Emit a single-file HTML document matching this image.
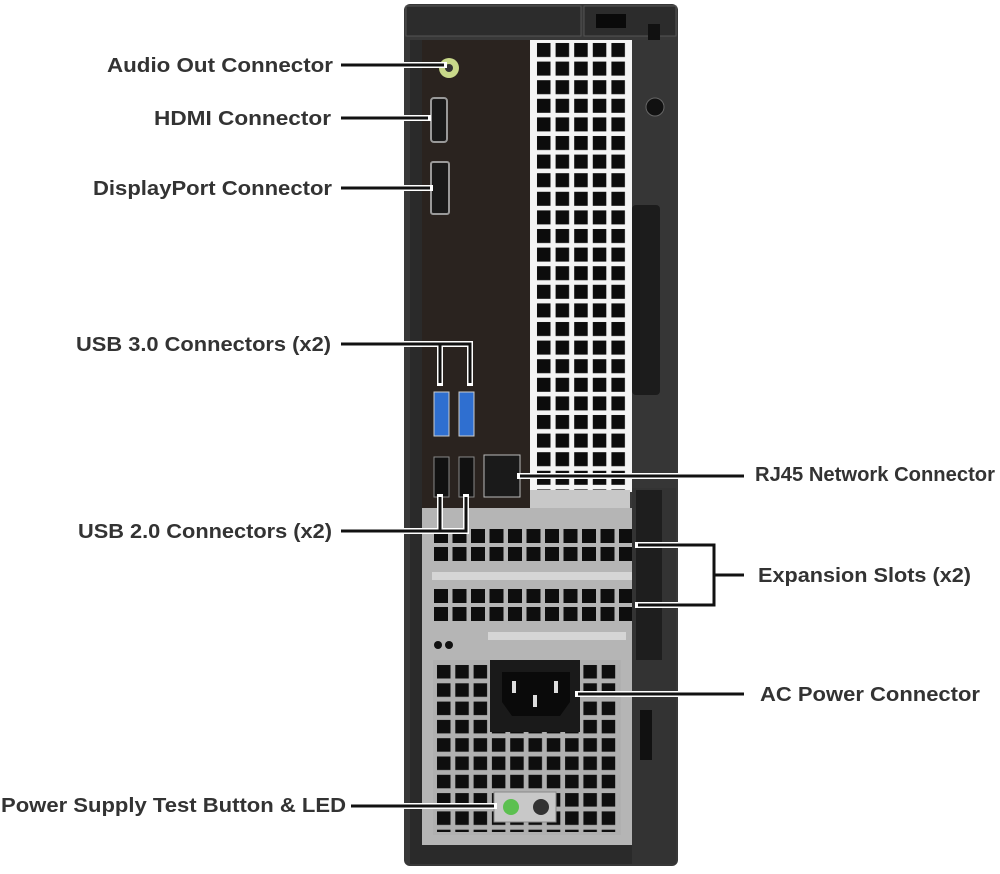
<!DOCTYPE html>
<html><head><meta charset="utf-8"><style>
html,body{margin:0;padding:0;background:#fff;width:1000px;height:874px;overflow:hidden}
svg{display:block}
text{font-family:"Liberation Sans",sans-serif;font-weight:bold;font-size:20px;fill:#333}
</style></head><body>
<svg width="1000" height="874" viewBox="0 0 1000 874" xmlns="http://www.w3.org/2000/svg">
<defs>
<pattern id="vent" x="536" y="42" width="18.6" height="18.6" patternUnits="userSpaceOnUse">
<rect width="18.6" height="18.6" fill="#f4f4f4"/><rect x="1" y="1" width="13.5" height="14" fill="#0c0c0c"/></pattern>
<pattern id="slot" x="433" y="527" width="18.5" height="18" patternUnits="userSpaceOnUse">
<rect width="18.5" height="18" fill="#b5b5b5"/><rect x="1" y="2" width="14" height="14" fill="#0e0e0e"/></pattern>
<pattern id="slot2" x="433" y="587" width="18.5" height="18" patternUnits="userSpaceOnUse">
<rect width="18.5" height="18" fill="#b5b5b5"/><rect x="1" y="2" width="14" height="14" fill="#0e0e0e"/></pattern>
<pattern id="psu" x="436" y="664" width="18.3" height="18.3" patternUnits="userSpaceOnUse">
<rect width="18.3" height="18.3" fill="#b0b0b0"/><rect x="1" y="1" width="13.5" height="13.5" fill="#0e0e0e"/></pattern>
</defs>
<rect x="404" y="4" width="274" height="862" rx="6" fill="#383838"/>
<rect x="406" y="6" width="175" height="30" fill="#2c2c2c" stroke="#555"/>
<rect x="584" y="6" width="92" height="30" fill="#2c2c2c" stroke="#555"/>
<rect x="596" y="14" width="30" height="14" fill="#0a0a0a"/>
<rect x="648" y="24" width="12" height="40" fill="#111"/>
<rect x="410" y="40" width="12" height="824" fill="#2a2a2a"/>
<rect x="530" y="40" width="102" height="452" fill="#f4f4f4"/>
<rect x="536" y="42" width="93" height="448" fill="url(#vent)"/>
<rect x="632" y="40" width="44" height="450" fill="#363636"/>
<rect x="632" y="205" width="28" height="190" rx="4" fill="#1c1c1c"/>
<circle cx="655" cy="107" r="9" fill="#111" stroke="#666"/>
<rect x="422" y="40" width="108" height="468" fill="#2a231f"/>
<circle cx="449" cy="68" r="10" fill="#c9d98a"/><circle cx="449" cy="68" r="4" fill="#333"/>
<rect x="431" y="98" width="16" height="44" rx="3" fill="#1a1a1a" stroke="#999" stroke-width="2"/>
<rect x="431" y="162" width="18" height="52" rx="2" fill="#1a1a1a" stroke="#999" stroke-width="2"/>
<rect x="434" y="392" width="15" height="44" fill="#2f6fd0" stroke="#ccc"/>
<rect x="459" y="392" width="15" height="44" fill="#2f6fd0" stroke="#ccc"/>
<rect x="434" y="457" width="15" height="40" fill="#111" stroke="#888"/>
<rect x="459" y="457" width="15" height="40" fill="#111" stroke="#888"/>
<rect x="484" y="455" width="36" height="42" fill="#1a1a1a" stroke="#bbb"/>
<rect x="422" y="508" width="216" height="340" fill="#b5b5b5"/>
<rect x="530" y="490" width="100" height="18" fill="#c8c8c8"/>
<rect x="433" y="527" width="202" height="36" fill="url(#slot)"/>
<rect x="432" y="572" width="200" height="8" fill="#d5d5d5"/>
<rect x="433" y="587" width="202" height="36" fill="url(#slot2)"/>
<rect x="488" y="632" width="138" height="8" fill="#d5d5d5"/>
<circle cx="438" cy="645" r="4" fill="#111"/><circle cx="449" cy="645" r="4" fill="#111"/>
<rect x="433" y="660" width="188" height="175" fill="#b0b0b0"/>
<rect x="436" y="664" width="184" height="168" fill="url(#psu)"/>
<rect x="490" y="660" width="90" height="72" fill="#1a1a1a"/>
<path d="M502 672 h68 v30 l-10 14 h-48 l-10 -14z" fill="#0a0a0a"/>
<rect x="512" y="681" width="4" height="12" fill="#ddd"/><rect x="554" y="681" width="4" height="12" fill="#ddd"/><rect x="533" y="695" width="4" height="12" fill="#ddd"/>
<rect x="494" y="792" width="62" height="30" fill="#c8c8c8" stroke="#888"/>
<circle cx="511" cy="807" r="8" fill="#5cc050"/><circle cx="541" cy="807" r="8" fill="#333"/>
<rect x="422" y="845" width="216" height="19" fill="#2a2a2a"/>
<rect x="632" y="488" width="44" height="376" fill="#333"/>
<rect x="636" y="490" width="26" height="170" fill="#1e1e1e"/>
<rect x="640" y="710" width="12" height="50" fill="#111"/>
<g stroke="#fff" stroke-width="6" fill="none" stroke-linecap="square">
<path d="M341 65H444M341 118H428M341 188H430M341 344H470V383M440 344V383M341 531H466V497M440 531V497M520 476H744M638 545H714V605H638M714 575H744M578 694H744M351 806H494"/>
</g>
<g stroke="#111" stroke-width="3" fill="none">
<path d="M341 65H444M341 118H428M341 188H430M341 344H470V383M440 344V383M341 531H466V497M440 531V497M520 476H744M638 545H714V605H638M714 575H744M578 694H744M351 806H494"/>
</g>
<text x="333" y="72" text-anchor="end" textLength="226" lengthAdjust="spacingAndGlyphs">Audio Out Connector</text>
<text x="331" y="125" text-anchor="end" textLength="177" lengthAdjust="spacingAndGlyphs">HDMI Connector</text>
<text x="332" y="195" text-anchor="end" textLength="239" lengthAdjust="spacingAndGlyphs">DisplayPort Connector</text>
<text x="331" y="351" text-anchor="end" textLength="255" lengthAdjust="spacingAndGlyphs">USB 3.0 Connectors (x2)</text>
<text x="332" y="538" text-anchor="end" textLength="254" lengthAdjust="spacingAndGlyphs">USB 2.0 Connectors (x2)</text>
<text x="755" y="481" textLength="240" lengthAdjust="spacingAndGlyphs">RJ45 Network Connector</text>
<text x="758" y="582" textLength="213" lengthAdjust="spacingAndGlyphs">Expansion Slots (x2)</text>
<text x="760" y="701" textLength="220" lengthAdjust="spacingAndGlyphs">AC Power Connector</text>
<text x="1" y="812" textLength="345" lengthAdjust="spacingAndGlyphs">Power Supply Test Button &amp; LED</text>
</svg>
</body></html>
